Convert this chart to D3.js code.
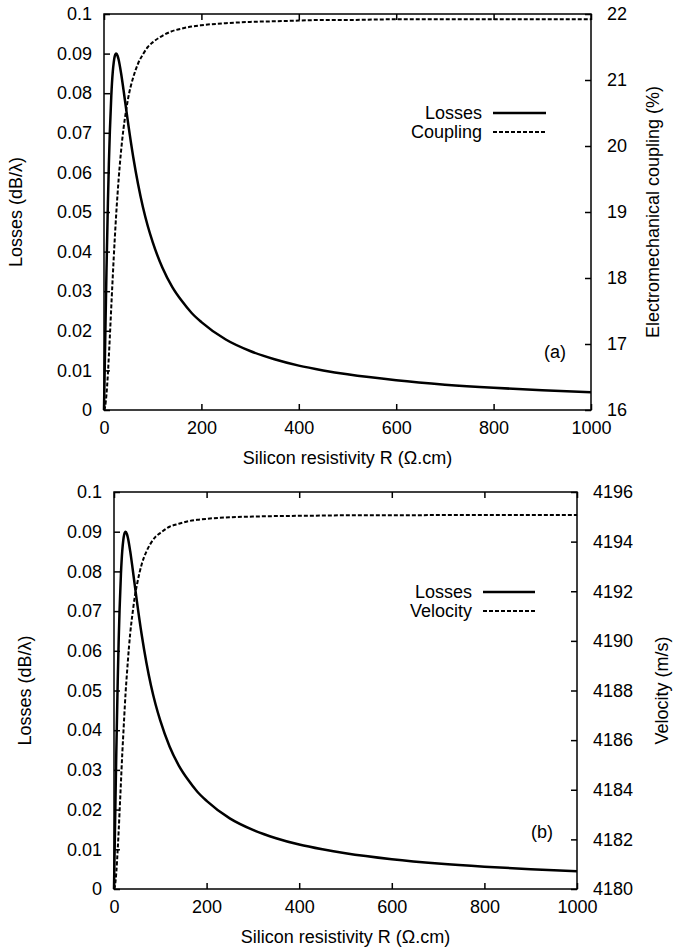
<!DOCTYPE html>
<html>
<head>
<meta charset="utf-8">
<script src="https://cdn.jsdelivr.net/npm/d3@7"></script>
<style>
  body { margin: 0; background: #fff; }
  svg { display: block; font-family: "Liberation Sans", Arial, sans-serif; }
  .tick text { font-size: 18px; fill: #000; }
</style>
</head>
<body>
<svg width="673" height="950"></svg>
<script>
// values
const resistivity = [0, 2, 5, 8, 10, 12, 15, 18, 20, 22, 25, 28, 30, 35, 40, 45, 50, 60, 70, 80, 90, 100,
  120, 140, 160, 180, 200, 250, 300, 350, 400, 450, 500, 600, 700, 800, 900, 1000];
const losses = [0, 0.0143, 0.0346, 0.0522, 0.0621, 0.0702, 0.0794, 0.0854, 0.0878, 0.0893, 0.09, 0.0894,
  0.0885, 0.0851, 0.0809, 0.0764, 0.072, 0.0639, 0.057, 0.0512, 0.0464, 0.0424,
  0.0359, 0.0311, 0.0275, 0.0245, 0.0222, 0.0178, 0.0149, 0.0128, 0.0112, 0.01, 0.009, 0.0075, 0.0064, 0.0056, 0.005, 0.0045];
const coupling = [16, 16.04, 16.23, 16.55, 16.82, 17.11, 17.57, 18.02, 18.31, 18.58, 18.96, 19.29,
  19.49, 19.92, 20.26, 20.52, 20.74, 21.04, 21.25, 21.39, 21.5, 21.57,
  21.67, 21.74, 21.78, 21.81, 21.83, 21.86, 21.88, 21.89, 21.9, 21.91, 21.91, 21.92, 21.92, 21.92, 21.92, 21.92];
const velocity = [4180, 4180.12, 4180.68, 4181.6, 4182.3, 4183.1, 4184.3, 4185.5, 4186.2, 4186.9, 4187.9, 4188.7,
  4189.2, 4190.3, 4191.1, 4191.8, 4192.3, 4193.1, 4193.6, 4193.95, 4194.2, 4194.35,
  4194.6, 4194.72, 4194.82, 4194.88, 4194.92, 4194.98, 4195.01, 4195.03, 4195.04, 4195.05, 4195.06, 4195.06, 4195.07, 4195.07, 4195.07, 4195.07];

const xTicks = [0, 200, 400, 600, 800, 1000];
const lossTicks = [0, 0.01, 0.02, 0.03, 0.04, 0.05, 0.06, 0.07, 0.08, 0.09, 0.1];
const couplingTicks = [16, 17, 18, 19, 20, 21, 22];
const velocityTicks = [4180, 4182, 4184, 4186, 4188, 4190, 4192, 4194, 4196];

const xLabel = 'Silicon resistivity R (\u03A9.cm)';
const lossLabel = 'Losses (dB/\u03BB)';

const svg = d3.select('svg');
const plain = (d) => String(d); // gnuplot style labels: 0.1, 1000, 4196

const panels = [
  {
    left: 104, right: 591, top: 14, bottom: 410,
    y2Domain: [16, 22], y2Ticks: couplingTicks, y2Values: coupling,
    y2Label: 'Electromechanical coupling (%)', name: 'Coupling', tag: '(a)',
    leftLabelX: 22, rightLabelX: 659,
    legendTextX: 482, legendLine: [493, 546], legendY: [113, 132],
    tagPos: [555, 352]
  },
  {
    left: 114, right: 577, top: 492, bottom: 889,
    y2Domain: [4180, 4196], y2Ticks: velocityTicks, y2Values: velocity,
    y2Label: 'Velocity (m/s)', name: 'Velocity', tag: '(b)',
    leftLabelX: 31, rightLabelX: 668,
    legendTextX: 472, legendLine: [483, 535], legendY: [592, 611],
    tagPos: [542, 832]
  }
];

panels.forEach((p) => {
  const w = p.right - p.left;
  const h = p.bottom - p.top;
  const g = svg.append('g').attr('transform', `translate(${p.left},${p.top})`);

  const x = d3.scaleLinear().domain([0, 1000]).range([0, w]);
  const y = d3.scaleLinear().domain([0, 0.1]).range([h, 0]);
  const y2 = d3.scaleLinear().domain(p.y2Domain).range([h, 0]);

  // axes, ticks pointing inward
  const styleAxis = (sel) => {
    sel.select('.domain').remove();
    sel.selectAll('.tick line').attr('stroke', '#000').attr('stroke-width', 1.5);
  };

  g.append('g')
    .attr('transform', `translate(0,${h})`)
    .call(d3.axisBottom(x).tickValues(xTicks).tickSizeInner(-6).tickSizeOuter(0).tickPadding(11).tickFormat(plain))
    .call(styleAxis);
  g.append('g')
    .call(d3.axisTop(x).tickValues(xTicks).tickSizeInner(-6).tickSizeOuter(0).tickFormat(''))
    .call(styleAxis);
  g.append('g')
    .call(d3.axisLeft(y).tickValues(lossTicks).tickSizeInner(-6).tickSizeOuter(0).tickPadding(12).tickFormat(plain))
    .call(styleAxis);
  g.append('g')
    .attr('transform', `translate(${w},0)`)
    .call(d3.axisRight(y2).tickValues(p.y2Ticks).tickSizeInner(-6).tickSizeOuter(0).tickPadding(16).tickFormat(plain))
    .call(styleAxis);

  g.selectAll('.tick text').attr('font-family', null).attr('font-size', null);

  // frame
  g.append('rect')
    .attr('width', w).attr('height', h)
    .attr('fill', 'none').attr('stroke', '#000').attr('stroke-width', 1.5);

  const rows = resistivity.map((r, i) => ({ r, loss: losses[i], v: p.y2Values[i] }));

  const lossLine = d3.line().x((d) => x(d.r)).y((d) => y(d.loss)).curve(d3.curveMonotoneX);
  const otherLine = d3.line().x((d) => x(d.r)).y((d) => y2(d.v)).curve(d3.curveMonotoneX);

  g.append('path').datum(rows)
    .attr('d', otherLine)
    .attr('fill', 'none').attr('stroke', '#000').attr('stroke-width', 2).attr('stroke-dasharray', '4,2');
  g.append('path').datum(rows)
    .attr('d', lossLine)
    .attr('fill', 'none').attr('stroke', '#000').attr('stroke-width', 2.5);

  // axis titles
  svg.append('text')
    .attr('transform', `translate(${p.leftLabelX},${(p.top + p.bottom) / 2}) rotate(-90)`)
    .attr('text-anchor', 'middle').attr('font-size', 18)
    .text(lossLabel);
  svg.append('text')
    .attr('transform', `translate(${p.rightLabelX},${(p.top + p.bottom) / 2}) rotate(-90)`)
    .attr('text-anchor', 'middle').attr('font-size', 18)
    .text(p.y2Label);
  svg.append('text')
    .attr('x', (p.left + p.right) / 2).attr('y', p.bottom + 54)
    .attr('text-anchor', 'middle').attr('font-size', 18)
    .text(xLabel);

  // legend
  const legend = [
    { name: 'Losses', dash: null, width: 2.5 },
    { name: p.name, dash: '4,2', width: 2 }
  ];
  legend.forEach((l, i) => {
    svg.append('text')
      .attr('x', p.legendTextX).attr('y', p.legendY[i] + 6)
      .attr('text-anchor', 'end').attr('font-size', 18)
      .text(l.name);
    svg.append('line')
      .attr('x1', p.legendLine[0]).attr('x2', p.legendLine[1])
      .attr('y1', p.legendY[i]).attr('y2', p.legendY[i])
      .attr('stroke', '#000').attr('stroke-width', l.width)
      .attr('stroke-dasharray', l.dash);
  });

  svg.append('text')
    .attr('x', p.tagPos[0]).attr('y', p.tagPos[1] + 6)
    .attr('text-anchor', 'middle').attr('font-size', 18)
    .text(p.tag);
});
</script>
</body>
</html>
